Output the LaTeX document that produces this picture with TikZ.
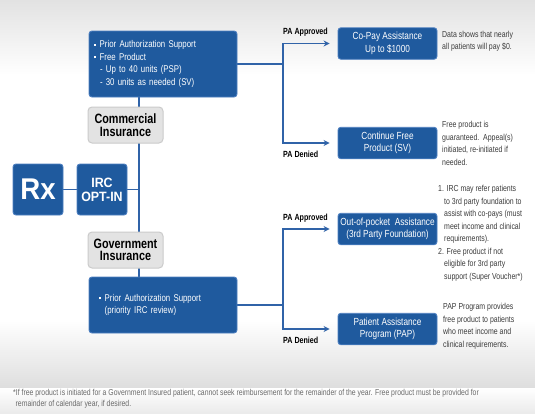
\documentclass[tikz,border=0pt]{standalone}
\usepackage{fontspec}
\setmainfont{Liberation Sans}[FakeStretch=0.8]
\newfontfamily\widefont{Liberation Sans}[FakeStretch=0.92]
\usetikzlibrary{arrows.meta}
\definecolor{boxblue}{HTML}{1F5A9E}
\definecolor{boxedge}{HTML}{4D7FC0}
\definecolor{linkblue}{HTML}{3063A8}
\definecolor{grayfill}{HTML}{E3E3E3}
\definecolor{grayedge}{HTML}{CBCBCB}
\definecolor{desc}{HTML}{3C3C3C}
\definecolor{foot}{HTML}{6A6A6A}
\definecolor{bgtop}{HTML}{E2E2E2}
\definecolor{bgbot}{HTML}{DEDEDE}
\pgfdeclarelayer{back}\pgfdeclarelayer{mid}\pgfsetlayers{back,mid,main}
\newcommand\sqb{\raisebox{2pt}{\rule{2.2pt}{2.2pt}}\hspace{3.5pt}}
\begin{document}
\begin{tikzpicture}[x=1pt,y=-1pt,
 bluebox/.style={draw=boxedge, line width=0.9pt, fill=boxblue, rounded corners=3pt, text=white, inner sep=0pt},
 graybox/.style={draw=grayedge, line width=1pt, fill=grayfill, rounded corners=4pt, font=\bfseries\fontsize{13.5}{12.5}\selectfont, align=center, minimum width=75pt, minimum height=36pt, inner sep=0pt},
 rbox/.style={bluebox, minimum width=99pt, minimum height=31.5pt, align=center, font=\fontsize{10.3}{12.5}\selectfont},
 lbox/.style={bluebox, minimum width=148pt, text width=138pt, align=left, font=\fontsize{9.8}{12.5}\selectfont},
 conn/.style={draw=linkblue, line width=1.5pt},
 arr/.style={conn, -{Stealth[length=6pt,width=6pt]}, shorten >=8pt},
 pa/.style={font=\bfseries\fontsize{8.9}{10}\selectfont, anchor=west, inner sep=0pt},
 note/.style={text=desc, font=\fontsize{8.7}{12.5}\selectfont, align=left, anchor=west, inner sep=0pt},
 footnote/.style={text=foot, font=\fontsize{8.6}{11}\selectfont, align=left, anchor=north west, inner sep=0pt},
]
\useasboundingbox (0,0) rectangle (535,413);
\begin{pgfonlayer}{back}
\fill[white] (0,0) rectangle (535,413);
\shade[top color=bgtop, bottom color=white] (0,0) rectangle (535,75);
\shade[top color=white, bottom color=bgbot] (0,320) rectangle (535,388);
\shade[top color=white, bottom color=white!92!black] (0,388) rectangle (535,413);
\end{pgfonlayer}

% left column
\node[lbox, minimum height=66pt] (cbox) at (163,64)
 {\sqb Prior Authorization Support\\
  \sqb Free Product\\
  \hspace*{6pt}- Up to 40 units (PSP)\\
  \hspace*{6pt}- 30 units as needed (SV)};
\node[graybox] (comm) at (125.5,125) {Commercial\\Insurance};
\node[bluebox, minimum width=50pt, minimum height=51pt, font=\widefont\bfseries\fontsize{30}{30}\selectfont] (rx) at (38,189.5) {Rx};
\node[bluebox, minimum width=50pt, minimum height=51pt, align=center, font=\widefont\bfseries\fontsize{13.5}{14}\selectfont] (irc) at (102,189.5) {IRC\\OPT-IN};
\node[graybox] (gov) at (125.5,250) {Government\\Insurance};
\node[lbox, minimum height=56pt] (gbox) at (163,305)
 {\hspace*{5pt}\sqb Prior Authorization Support\\
  \hspace*{10.7pt}(priority IRC review)};

% right column
\node[rbox] (copay) at (387.5,43.5) {Co-Pay Assistance\\Up to \$1000};
\node[rbox] (cont) at (387.5,143) {Continue Free\\Product (SV)};
\node[rbox] (oop) at (387.5,229) {Out-of-pocket\ \ Assistance\\(3rd Party Foundation)};
\node[rbox] (pap) at (387.5,329) {Patient Assistance\\Program (PAP)};

% branch labels
\node[pa] (l1) at (283,32) {PA Approved};
\node[pa] (l2) at (283,154) {PA Denied};
\node[pa] (l3) at (283,218) {PA Approved};
\node[pa] (l4) at (283,340) {PA Denied};

% notes
\node[note] (n1) at (442,41) {Data shows that nearly\\all patients will pay \$0.};
\node[note] (n2) at (442,143.5) {Free product is\\guaranteed.\ \ Appeal(s)\\initiated, re-initiated if\\needed.};
\node[note] (n3) at (438,233) {1. IRC may refer patients\\
 \hspace*{6pt}to 3rd party foundation to\\
 \hspace*{6pt}assist with co-pays (must\\
 \hspace*{6pt}meet income and clinical\\
 \hspace*{6pt}requirements).\\
 2. Free product if not\\
 \hspace*{6pt}eligible for 3rd party\\
 \hspace*{6pt}support (Super Voucher*)};
\node[note] (n4) at (443,326) {PAP Program provides\\free product to patients\\who meet income and\\clinical requirements.};

\node[footnote] (fn) at (13,389) {*If free product is initiated for a Government Insured patient, cannot seek reimbursement for the remainder of the year. Free product must be provided for\\
 \hspace*{2.5pt}remainder of calendar year, if desired.};

% connectors
\coordinate (tx) at (139,0);
\coordinate (jc) at (283,64);
\coordinate (jg) at (283,305);
\begin{pgfonlayer}{mid}
\draw[conn] (cbox.south -| tx) -- (gbox.north -| tx);
\draw[conn] (irc.east) -- (irc.east -| tx);
\draw[conn] (rx.east) -- (irc.west);
\draw[conn] (cbox.east) -- (jc);
\draw[arr] (jc) |- (copay.west);
\draw[arr] (jc) |- (cont.west);
\draw[conn] (gbox.east) -- (jg);
\draw[arr] (jg) |- (oop.west);
\draw[arr] (jg) |- (pap.west);
\end{pgfonlayer}
\end{tikzpicture}
\end{document}
